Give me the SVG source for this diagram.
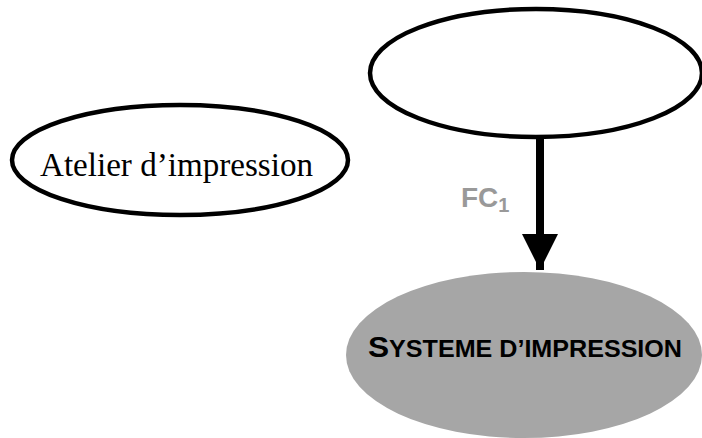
<svg xmlns="http://www.w3.org/2000/svg" width="702" height="438" viewBox="0 0 702 438">
<style>
.outline{fill:#ffffff;stroke:#000000;stroke-width:4.5}
.serif{font-family:"Liberation Serif","Times New Roman",serif;fill:#000}
.sans{font-family:"Liberation Sans",Arial,sans-serif;font-weight:bold}
</style>
<defs>
<marker id="arrow" markerUnits="userSpaceOnUse" markerWidth="38" markerHeight="36" refX="36" refY="18" orient="auto">
<path d="M0,0 L36,18 L0,36 Z" fill="#000"/>
</marker>
</defs>
<rect width="702" height="438" fill="#ffffff"/>
<g id="connectors">
<line x1="540" y1="138" x2="540" y2="270" stroke="#000" stroke-width="8" marker-end="url(#arrow)"/>
<text class="sans" x="461" y="207" font-size="28" fill="#999999">FC<tspan font-size="20" dy="5">1</tspan></text>
</g>
<g id="node-atelier">
<ellipse class="outline" cx="180" cy="160" rx="168" ry="55"/>
<text class="serif" x="40" y="176" font-size="34" textLength="273" lengthAdjust="spacingAndGlyphs">Atelier d’impression</text>
</g>
<g id="node-top">
<ellipse class="outline" cx="536" cy="73" rx="166" ry="64" stroke-width="5"/>
</g>
<g id="node-systeme">
<ellipse cx="524" cy="355" rx="178" ry="83" fill="#a6a6a6"/>
<text class="sans" x="368" y="357" font-size="29" fill="#000" textLength="314" lengthAdjust="spacingAndGlyphs">S<tspan font-size="23">YSTEME D’IMPRESSION</tspan></text>
</g>
</svg>
